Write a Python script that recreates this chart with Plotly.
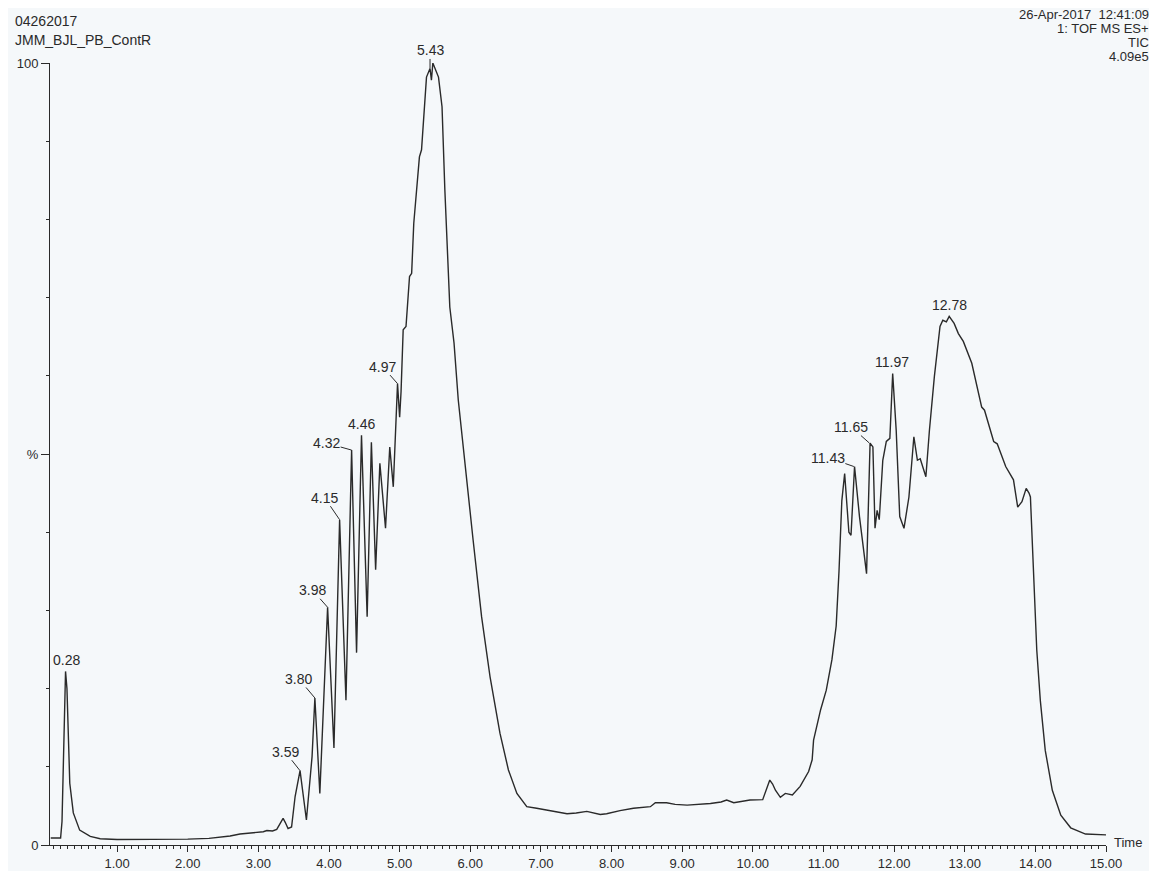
import plotly.graph_objects as go

# ---- data (time in min, intensity in %) ----
time_min = [0.06, 0.20, 0.22, 0.25, 0.27, 0.29, 0.31, 0.33, 0.38, 0.47, 0.62, 0.76, 1.00, 1.50,
            2.00, 2.30, 2.60, 2.74, 2.90, 3.07, 3.12, 3.20, 3.26, 3.31, 3.35, 3.38, 3.42, 3.47,
            3.52, 3.59, 3.68, 3.76, 3.80, 3.87, 3.98, 4.07, 4.15, 4.24, 4.32, 4.39, 4.46, 4.54,
            4.60, 4.66, 4.72, 4.80, 4.86, 4.91, 4.97, 5.00, 5.02, 5.05, 5.09, 5.14, 5.17, 5.20,
            5.28, 5.31, 5.38, 5.43, 5.45, 5.47, 5.50, 5.55, 5.60, 5.64, 5.71, 5.77, 5.83, 5.95,
            6.04, 6.16, 6.28, 6.42, 6.54, 6.66, 6.80, 6.94, 7.08, 7.20, 7.37, 7.50, 7.65, 7.84,
            7.93, 8.12, 8.31, 8.55, 8.62, 8.78, 8.90, 9.07, 9.25, 9.40, 9.55, 9.63, 9.73, 9.85,
            9.96, 10.14, 10.19, 10.24, 10.28, 10.32, 10.39, 10.46, 10.56, 10.67, 10.79, 10.84,
            10.86, 10.96, 11.04, 11.12, 11.18, 11.22, 11.26, 11.30, 11.36, 11.39, 11.44, 11.51,
            11.61, 11.66, 11.70, 11.73, 11.76, 11.79, 11.84, 11.89, 11.94, 11.98, 12.03, 12.08,
            12.14, 12.21, 12.28, 12.33, 12.37, 12.45, 12.50, 12.57, 12.65, 12.69, 12.74, 12.78,
            12.85, 12.91, 12.98, 13.10, 13.24, 13.28, 13.41, 13.46, 13.58, 13.69, 13.75, 13.81,
            13.87, 13.91, 13.93, 13.98, 14.02, 14.07, 14.14, 14.24, 14.36, 14.50, 14.71, 15.00]
intensity_pct = [0.9, 0.9, 3.0, 15.0, 22.2, 20.0, 12.0, 7.9, 4.1, 1.9, 1.1, 0.8, 0.7, 0.7,
                 0.75, 0.85, 1.15, 1.4, 1.5, 1.7, 1.85, 1.8, 2.0, 2.8, 3.4, 2.9, 2.1, 2.3,
                 6.2, 9.5, 3.2, 11.3, 18.8, 6.6, 30.4, 12.4, 41.6, 18.5, 50.5, 24.6, 52.4, 29.2,
                 51.5, 35.2, 48.8, 40.5, 50.9, 45.8, 59.0, 54.7, 58.0, 65.9, 66.3, 72.7, 73.1, 79.5,
                 88.0, 88.9, 98.2, 99.3, 97.8, 100.0, 99.3, 98.2, 94.4, 83.8, 68.8, 64.2, 56.9, 46.3,
                 39.0, 29.2, 21.5, 14.3, 9.6, 6.6, 4.9, 4.7, 4.5, 4.3, 4.0, 4.1, 4.3, 3.9,
                 4.0, 4.4, 4.7, 4.9, 5.4, 5.4, 5.2, 5.1, 5.2, 5.3, 5.5, 5.75, 5.4, 5.6,
                 5.75, 5.8, 7.0, 8.3, 7.8, 7.0, 6.1, 6.6, 6.4, 7.5, 9.4, 10.9,
                 13.4, 17.3, 19.8, 23.7, 28.0, 35.0, 44.0, 47.5, 40.0, 39.6, 48.4, 42.0,
                 34.7, 51.4, 50.9, 40.5, 42.8, 41.6, 49.2, 51.6, 52.0, 60.3, 53.0, 42.0,
                 40.5, 44.5, 52.2, 49.2, 49.4, 47.1, 53.0, 59.9, 66.3, 67.1, 66.9, 67.6,
                 66.7, 65.4, 64.4, 61.6, 56.0, 55.6, 51.6, 51.3, 48.4, 46.7, 43.2, 43.9,
                 45.6, 45.0, 44.5, 32.6, 24.9, 18.5, 12.1, 7.0, 3.8, 2.2, 1.4, 1.3]

peak_times = [0.28, 3.59, 3.80, 3.98, 4.15, 4.32, 4.46, 4.97, 5.43, 11.43, 11.65, 11.97, 12.78]
peak_heights = [22.2, 9.5, 18.8, 30.4, 41.6, 50.5, 52.4, 59.0, 99.3, 48.4, 51.4, 60.3, 67.6]
peak_texts = ["0.28", "3.59", "3.80", "3.98", "4.15", "4.32", "4.46", "4.97", "5.43",
              "11.43", "11.65", "11.97", "12.78"]

x_ticks = [1, 2, 3, 4, 5, 6, 7, 8, 9, 10, 11, 12, 13, 14, 15]
x_tick_labels = ["1.00", "2.00", "3.00", "4.00", "5.00", "6.00", "7.00", "8.00",
                 "9.00", "10.00", "11.00", "12.00", "13.00", "14.00", "15.00"]
y_ticks = [0, 50, 100]
y_tick_labels = ["0", "%", "100"]

header_left = ["04262017", "JMM_BJL_PB_ContR"]
header_right = ["26-Apr-2017  12:41:09", "1: TOF MS ES+", "TIC", "4.09e5"]

# ---- styling ----
FONT = "Liberation Sans, Arial, sans-serif"
INK = "#2a2a2a"
BG = "#f5f8fa"
# leader offsets (pixels) for each peak label; None => label sits right above the peak
label_offsets = [None, (-15, -19), (-16, -19), (-15, -17), (-15, -22), (-25, -7), None,
                 (-15, -17), (0, -18), (-26, -9), (-18, -16), None, None]

fig = go.Figure()
fig.add_trace(go.Scatter(x=time_min, y=intensity_pct, mode="lines",
                         line=dict(color=INK, width=1.4), cliponaxis=False,
                         hoverinfo="x+y", showlegend=False))

annotations = []
for t, h, txt, off in zip(peak_times, peak_heights, peak_texts, label_offsets):
    if off is None:
        annotations.append(dict(x=t, y=h, xref="x", yref="y", text=txt, showarrow=False,
                                yanchor="bottom", yshift=1,
                                font=dict(family=FONT, size=14, color=INK)))
    else:
        annotations.append(dict(x=t, y=h, xref="x", yref="y", text=txt, showarrow=True,
                                arrowhead=0, arrowwidth=1, arrowcolor=INK, ax=off[0], ay=off[1],
                                standoff=0, borderpad=0,
                                font=dict(family=FONT, size=14, color=INK)))

# header texts (paper coords relative to plot area)
for txt, yy in zip(header_left, [1.0537, 1.0294]):
    annotations.append(dict(x=-0.035, y=yy, xref="paper", yref="paper", text=txt,
                            showarrow=False, xanchor="left", yanchor="middle",
                            font=dict(family=FONT, size=14, color=INK)))
for txt, yy in zip(header_right, [1.0614, 1.0435, 1.0256, 1.0077]):
    annotations.append(dict(x=1.042, y=yy, xref="paper", yref="paper", text=txt,
                            showarrow=False, xanchor="right", yanchor="middle", borderpad=0,
                            font=dict(family=FONT, size=13, color=INK)))
annotations.append(dict(x=1.006, y=0, xref="paper", yref="paper", text="Time",
                        showarrow=False, xanchor="left", yanchor="middle", yshift=3,
                        font=dict(family=FONT, size=13, color=INK)))

# the page adds an 8px body margin, so the figure is sized/placed to compensate
fig.update_layout(
    width=1149, height=863, autosize=False,
    margin=dict(l=42, r=51, t=55, b=26, autoexpand=False),
    paper_bgcolor=BG, plot_bgcolor=BG,
    font=dict(family=FONT, size=13, color=INK),
    annotations=annotations,
    xaxis=dict(range=[0.05, 15.0], showline=True, linecolor=INK, linewidth=1,
               automargin=False,
               ticks="outside", ticklen=6, tickcolor=INK, tickwidth=1,
               tickvals=x_ticks, ticktext=x_tick_labels,
               minor=dict(ticks="outside", dtick=0.1, tick0=0, ticklen=3, tickcolor=INK),
               showgrid=False, zeroline=False, tickfont=dict(size=13, family=FONT, color=INK)),
    yaxis=dict(range=[0, 100], showline=True, linecolor=INK, linewidth=1,
               automargin=False,
               ticks="outside", ticklen=8, tickcolor=INK, tickwidth=1,
               tickvals=y_ticks, ticktext=y_tick_labels,
               minor=dict(ticks="outside", dtick=10, tick0=0, ticklen=3, tickcolor=INK),
               showgrid=False, zeroline=False, tickfont=dict(size=13, family=FONT, color=INK)),
)

fig.write_html("out.html")
